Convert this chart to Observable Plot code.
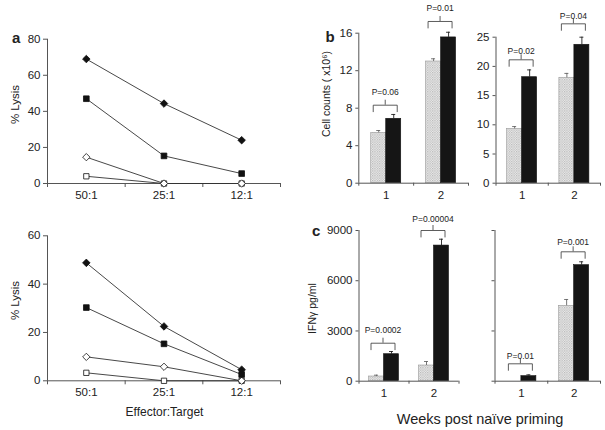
<!DOCTYPE html>
<html>
<head>
<meta charset="utf-8">
<script src="https://cdn.jsdelivr.net/npm/d3@7"></script>
<script src="https://cdn.jsdelivr.net/npm/@observablehq/plot@0.6"></script>
<style>
  html, body { margin: 0; padding: 0; background: #fff; }
  #chart { position: relative; width: 605px; height: 430px; overflow: hidden; }
  #chart svg { position: absolute; left: 0; top: 0; }
</style>
</head>
<body>
<svg width="0" height="0" style="position:absolute;left:0;top:0">
  <defs>
    <pattern id="hatch" width="2.4" height="2.4" patternUnits="userSpaceOnUse">
      <rect width="2.4" height="2.4" fill="#eeeeee"></rect>
      <rect x="0" y="0" width="1.2" height="1.2" fill="#b4b4b4"></rect>
      <rect x="1.2" y="1.2" width="1.2" height="1.2" fill="#c4c4c4"></rect>
    </pattern>
  </defs>
</svg>
<div id="chart"></div>
<script>
// ---------------- data ----------------
const ratios = ["50:1", "25:1", "12:1"];
const lysisSeries = ["Filled diamond", "Filled square", "Open diamond", "Open square"];
const lysisTopFilledDiamond = [69, 44.3, 24];
const lysisTopFilledSquare = [47, 15.3, 5.5];
const lysisTopOpenDiamond = [14.6, 0, 0];
const lysisTopOpenSquare = [4, 0, 0];
const lysisBottomFilledDiamond = [48.8, 22.5, 4.6];
const lysisBottomFilledSquare = [30.3, 15.3, 2.6];
const lysisBottomOpenDiamond = [9.9, 5.8, 0];
const lysisBottomOpenSquare = [3.3, 0, 0];
const lysisTopTicks = [0, 20, 40, 60, 80];
const lysisBottomTicks = [0, 20, 40, 60];

const weeks = ["1", "2"];
const cellsLeftHatched = [5.37, 12.98];
const cellsLeftHatchedErr = [5.62, 13.27];
const cellsLeftSolid = [6.87, 15.55];
const cellsLeftSolidErr = [7.33, 16.1];
const cellsLeftP = ["P=0.06", "P=0.01"];
const cellsLeftPBracket = [8.32, 17.25];
const cellsLeftPText = [9.71, 18.67];
const cellsLeftTicks = [0, 4, 8, 12, 16];

const cellsRightHatched = [9.3, 18.05];
const cellsRightHatchedErr = [9.7, 18.8];
const cellsRightSolid = [18.15, 23.7];
const cellsRightSolidErr = [19.4, 25.0];
const cellsRightP = ["P=0.02", "P=0.04"];
const cellsRightPBracket = [21.13, 27.29];
const cellsRightPText = [22.64, 28.5];
const cellsRightTicks = [0, 5, 10, 15, 20, 25];

const ifnLeftHatched = [280, 937];
const ifnLeftHatchedErr = [360, 1176];
const ifnLeftSolid = [1612, 8100];
const ifnLeftSolidErr = [1773, 8480];
const ifnLeftP = ["P=0.0002", "P=0.00004"];
const ifnLeftPBracket = [2269, 9000];
const ifnLeftPText = [3070, 9657];

const ifnRightHatched = [0, 4503];
const ifnRightHatchedErr = [0, 4880];
const ifnRightSolid = [300, 6928];
const ifnRightSolidErr = [380, 7130];
const ifnRightP = ["P=0.01", "P=0.001"];
const ifnRightPBracket = [1039, 7728];
const ifnRightPText = [1505, 8284];
const ifnTicks = [0, 3000, 6000, 9000];

// ---------------- layout / style ----------------
const W = 605, H = 430;
const FONT = '"Liberation Sans", Arial, Helvetica, sans-serif';
const AXIS = "#555";
const INK = "#222";
const chart = document.getElementById("chart");

function baseOptions(f, xdomain, ydomain) {
  return {
    width: W, height: H,
    marginLeft: f.l, marginRight: W - f.r, marginTop: f.t, marginBottom: H - f.b,
    x: {type: "linear", domain: xdomain, label: null},
    y: {type: "linear", domain: ydomain, label: null},
    style: {fontFamily: FONT, fontSize: "11.5px", background: "transparent", color: INK, overflow: "visible"}
  };
}

function lysisPanel(f, ymax, ticks, seriesValues, extras) {
  const rows = seriesValues.flatMap((vals, s) =>
    vals.map((v, i) => ({series: lysisSeries[s], xi: i + 0.5, ratio: ratios[i], value: v})));
  const sym = {
    "Filled diamond": {symbol: "diamond2", r: 3.4, fill: "#111"},
    "Filled square": {symbol: "square", r: 3.2, fill: "#111"},
    "Open diamond": {symbol: "diamond2", r: 3.3, fill: "#fff"},
    "Open square": {symbol: "square", r: 3.0, fill: "#fff"}
  };
  const opts = baseOptions(f, [0, ratios.length], [0, ymax]);
  opts.marks = [
    Plot.ruleY([0], {stroke: AXIS, strokeWidth: 1}),
    Plot.ruleX([0], {stroke: AXIS, strokeWidth: 1}),
    Plot.axisY({ticks, tickSize: 4, tickPadding: 3, tickFormat: d3.format("d"), label: null, stroke: AXIS}),
    Plot.axisX({ticks: d3.range(0, ratios.length + 1), tickSize: 4, tickFormat: () => "", label: null, stroke: AXIS}),
    Plot.axisX({ticks: ratios.map((_, i) => i + 0.5), tickSize: 0, tickPadding: 7.5, tickFormat: (d) => ratios[Math.floor(d)], label: null}),
    Plot.line(rows, {x: "xi", y: "value", z: "series", stroke: "#333", strokeWidth: 0.9}),
    ...lysisSeries.slice().reverse().map((s) =>
      Plot.dot(rows.filter((d) => d.series === s), {x: "xi", y: "value", symbol: sym[s].symbol, r: sym[s].r, fill: sym[s].fill, stroke: "#111", strokeWidth: 0.8})),
    ...extras
  ];
  return Plot.plot(opts);
}

function barPanel(f, ymax, ticks, showLabels, hatched, hatchedErr, solid, solidErr, pLabels, pBracket, pText, extras) {
  const n = weeks.length;
  const pxPerX = (f.r - f.l) / n;
  const pxPerY = (f.b - f.t) / ymax;
  const ux = (px) => px / pxPerX;
  const uy = (px) => px / pxPerY;
  const bw = ux(15);
  const rows = [];
  weeks.forEach((w, i) => {
    const c = i + 0.5;
    rows.push({week: w, series: "hatched", x1: c - bw, x2: c, xc: c - bw / 2, value: hatched[i], err: hatchedErr[i]});
    rows.push({week: w, series: "solid", x1: c, x2: c + bw, xc: c + bw / 2, value: solid[i], err: solidErr[i]});
  });
  const br = weeks.map((w, i) => {
    const c = i + 0.5;
    return {k: i, p: pLabels[i], top: pBracket[i], textY: pText[i], xl: c - ux(13), xr: c + ux(11), xm: c - ux(1)};
  });
  const brPath = br.flatMap((b) => [
    {k: b.k, x: b.xl, y: b.top - uy(6.5)}, {k: b.k, x: b.xl, y: b.top},
    {k: b.k, x: b.xr, y: b.top}, {k: b.k, x: b.xr, y: b.top - uy(6.5)}
  ]);
  const withErr = rows.filter((d) => d.err > d.value);
  const opts = baseOptions(f, [0, n], [0, ymax]);
  opts.marks = [
    Plot.rect(rows.filter((d) => d.series === "hatched" && d.value > 0), {x1: "x1", x2: "x2", y1: 0, y2: "value", fill: "url(#hatch)", stroke: "#999", strokeWidth: 0.6}),
    Plot.rect(rows.filter((d) => d.series === "solid"), {x1: "x1", x2: "x2", y1: 0, y2: "value", fill: "#151515", stroke: "#111", strokeWidth: 0.6}),
    Plot.ruleX(withErr, {x: "xc", y1: "value", y2: "err", stroke: (d) => d.series, strokeWidth: 0.9}),
    Plot.ruleY(withErr, {y: "err", x1: (d) => d.xc - ux(2), x2: (d) => d.xc + ux(2), stroke: (d) => d.series, strokeWidth: 0.9}),
    Plot.line(brPath, {x: "x", y: "y", z: "k", stroke: "#333", strokeWidth: 0.8}),
    Plot.ruleX(br, {x: "xm", y1: "top", y2: (d) => d.top + uy(5), stroke: "#333", strokeWidth: 0.8}),
    Plot.text(br, {x: "xm", y: "textY", text: "p", fontSize: 8.5, fill: INK, lineAnchor: "middle"}),
    Plot.ruleY([0], {stroke: AXIS, strokeWidth: 1}),
    Plot.ruleX([0], {stroke: AXIS, strokeWidth: 1}),
    Plot.axisY({ticks, tickSize: 3, tickPadding: 3.5, tickFormat: showLabels ? d3.format("d") : () => "", label: null, stroke: AXIS}),
    Plot.axisX({ticks: d3.range(0, n + 1), tickSize: 3, tickFormat: () => "", label: null, stroke: AXIS}),
    Plot.axisX({ticks: weeks.map((_, i) => i + 0.5), tickSize: 0, tickPadding: 8, tickFormat: (d) => weeks[Math.floor(d)], label: null}),
    ...extras
  ];
  opts.color = {type: "ordinal", domain: ["hatched", "solid"], range: ["#666", "#222"]};
  return Plot.plot(opts);
}

function label(text, f, x, y, o = {}) {
  // text placed relative to the top-left corner of the frame
  return Plot.text([text], {text: (d) => d, frameAnchor: "top-left", dx: x - f.l, dy: y - f.t,
    textAnchor: "middle", lineAnchor: "middle", fill: INK, ...o});
}

// ---------------- panels ----------------
const fA1 = {l: 47, r: 280, t: 38.7, b: 183};
const fA2 = {l: 47, r: 280, t: 235.3, b: 380.3};
const fB1 = {l: 358.3, r: 468, t: 32.7, b: 182.7};
const fB2 = {l: 495.5, r: 600, t: 36.7, b: 182.7};
const fC1 = {l: 358.5, r: 458.5, t: 230, b: 380.7};
const fC2 = {l: 494.5, r: 600, t: 230, b: 380.7};

const panels = [
  lysisPanel(fA1, 80, lysisTopTicks,
    [lysisTopFilledDiamond, lysisTopFilledSquare, lysisTopOpenDiamond, lysisTopOpenSquare],
    [label("a", fA1, 11.5, 38, {textAnchor: "start", fontWeight: "bold", fontSize: 15}),
     label("% Lysis", fA1, 14.5, 104, {rotate: -90, fontSize: 11.5})]),
  lysisPanel(fA2, 60, lysisBottomTicks,
    [lysisBottomFilledDiamond, lysisBottomFilledSquare, lysisBottomOpenDiamond, lysisBottomOpenSquare],
    [label("% Lysis", fA2, 14.5, 300, {rotate: -90, fontSize: 11.5}),
     label("Effector:Target", fA2, 164, 411.5, {fontSize: 12})]),
  barPanel(fB1, 16, cellsLeftTicks, true, cellsLeftHatched, cellsLeftHatchedErr, cellsLeftSolid, cellsLeftSolidErr,
    cellsLeftP, cellsLeftPBracket, cellsLeftPText,
    [label("b", fB1, 325, 37, {textAnchor: "start", fontWeight: "bold", fontSize: 15}),
     label("Cell counts ( x10\u2076)", fB1, 326.5, 93.5, {rotate: -90, fontSize: 10.5})]),
  barPanel(fB2, 25, cellsRightTicks, true, cellsRightHatched, cellsRightHatchedErr, cellsRightSolid, cellsRightSolidErr,
    cellsRightP, cellsRightPBracket, cellsRightPText, []),
  barPanel(fC1, 9000, ifnTicks, true, ifnLeftHatched, ifnLeftHatchedErr, ifnLeftSolid, ifnLeftSolidErr,
    ifnLeftP, ifnLeftPBracket, ifnLeftPText,
    [label("c", fC1, 311.5, 230.5, {textAnchor: "start", fontWeight: "bold", fontSize: 15}),
     label("IFN\u03b3 pg/ml", fC1, 312, 308, {rotate: -90, fontSize: 10.5}),
     label("Weeks post na\u00efve priming", fC1, 479.5, 419, {fontSize: 14.5})]),
  barPanel(fC2, 9000, ifnTicks, false, ifnRightHatched, ifnRightHatchedErr, ifnRightSolid, ifnRightSolidErr,
    ifnRightP, ifnRightPBracket, ifnRightPText, [])
];
panels.forEach((p) => chart.appendChild(p));
</script>
</body>
</html>
